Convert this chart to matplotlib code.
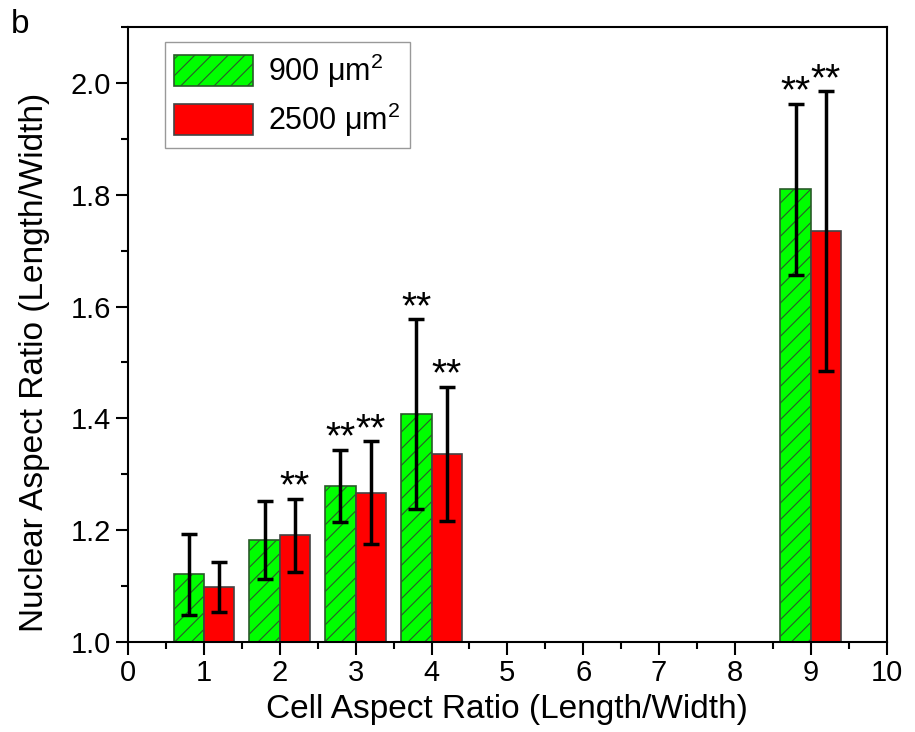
import matplotlib
matplotlib.use("Agg")
import matplotlib.pyplot as plt
import numpy as np
from matplotlib.ticker import MultipleLocator

plt.rcParams['font.family'] = ['Liberation Sans', 'DejaVu Sans']
plt.rcParams['mathtext.fontset'] = 'custom'
plt.rcParams['mathtext.rm'] = 'Liberation Sans'
plt.rcParams['mathtext.it'] = 'Liberation Sans:italic'
plt.rcParams['hatch.linewidth'] = 0.8

# data
cell_ratio = [1, 2, 3, 4, 9]
small_mean = [1.121, 1.183, 1.279, 1.407, 1.810]
small_err = [0.073, 0.070, 0.065, 0.170, 0.153]
large_mean = [1.098, 1.191, 1.267, 1.337, 1.735]
large_err = [0.045, 0.065, 0.092, 0.120, 0.250]
small_sig = [False, False, True, True, True]
large_sig = [False, True, True, True, True]
labels = ['900 μm$^2$', '2500 μm$^2$']

x = np.array(cell_ratio)
w = 0.4

fig = plt.figure(figsize=(9.15, 7.32), dpi=100)
ax = fig.add_axes([0.140, 0.123, 0.829, 0.840])

ekw = dict(ecolor='black', elinewidth=2.5, capsize=5.5, capthick=2.5)
b1 = ax.bar(x - w/2, np.array(small_mean) - 1, w, bottom=1, color='#00ff00',
            edgecolor='#2a5a2a', linewidth=1.2, hatch='//', label=labels[0],
            yerr=small_err, error_kw=ekw)
b2 = ax.bar(x + w/2, np.array(large_mean) - 1, w, bottom=1, color='#ff0000',
            edgecolor='#444444', linewidth=1.2, label=labels[1],
            yerr=large_err, error_kw=ekw)

# significance marks
for xi, m, e, s in zip(x - w/2, small_mean, small_err, small_sig):
    if s:
        ax.text(xi, m + e - 0.012, '**', ha='center', va='bottom', fontsize=28)
for xi, m, e, s in zip(x + w/2, large_mean, large_err, large_sig):
    if s:
        ax.text(xi, m + e - 0.012, '**', ha='center', va='bottom', fontsize=28)

ax.set_xlim(0, 10)
ax.set_ylim(1.0, 2.1)
ax.xaxis.set_major_locator(MultipleLocator(1))
ax.xaxis.set_minor_locator(MultipleLocator(0.5))
ax.yaxis.set_major_locator(MultipleLocator(0.2))
ax.yaxis.set_minor_locator(MultipleLocator(0.1))
ax.yaxis.set_major_formatter(plt.FormatStrFormatter('%.1f'))
ax.tick_params(which='major', direction='out', length=9, width=1.5, labelsize=21)
ax.tick_params(which='minor', direction='out', length=5, width=1.5)
for sp in ax.spines.values():
    sp.set_linewidth(1.5)

ax.set_xlabel('Cell Aspect Ratio (Length/Width)', fontsize=24)
ax.set_ylabel('Nuclear Aspect Ratio (Length/Width)', fontsize=24)
ax.xaxis.set_label_coords(0.5, -0.085)
ax.yaxis.set_label_coords(-0.103, 0.455)

leg = ax.legend(loc='upper left', bbox_to_anchor=(0.04, 0.985), fontsize=22,
                fancybox=False, framealpha=1, edgecolor='#999999',
                handlelength=2.6, handleheight=1.15, borderpad=0.3,
                labelspacing=0.35, handletextpad=0.5, borderaxespad=0.2)

fig.text(0.012, 0.955, 'b', fontsize=24)

fig.savefig('out.png', dpi=100)
